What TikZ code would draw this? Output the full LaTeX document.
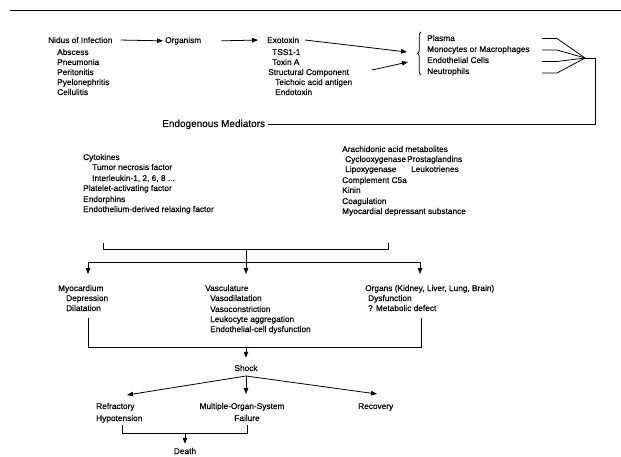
\documentclass[tikz,border=0pt]{standalone}
\usepackage{fontspec}
\setmainfont{Liberation Sans}[FakeBold=0.35]
\usetikzlibrary{arrows.meta,decorations.pathreplacing}
\begin{document}
\begin{tikzpicture}[x=1pt,y=-1pt,
  t/.style={font=\fontsize{8.3}{10}\selectfont, inner sep=0pt, anchor=base west},
  tc/.style={t, anchor=base},
  big/.style={font=\fontsize{10}{12}\selectfont, inner sep=0pt, anchor=base west},
  ln/.style={line width=0.8pt},
  arr/.style={ln, -{Triangle[length=6pt,width=4.5pt]}}]
\useasboundingbox (0,0) rectangle (621,457);
% top rule
\coordinate (r1) at (10,10.5);
\coordinate (r2) at (621,10.5);
\draw[line width=1.6pt] (r1) -- (r2);

% row 1
\node[t] (nidus) at (48,43) {Nidus of Infection};
\node[t] (abs) at (57,55) {Abscess};
\node[t] (pne) at (57,65) {Pneumonia};
\node[t] (per) at (57,75) {Peritonitis};
\node[t] (pye) at (57,85) {Pyelonephritis};
\node[t] (cel) at (57,95) {Cellulitis};

\node[t] (org) at (165,43) {Organism};

\node[t] (exo) at (267,43) {Exotoxin};
\node[t] (tss) at (272,55) {TSS1-1};
\node[t] (toxa) at (272,65) {Toxin A};
\node[t] (struc) at (268,75) {Structural Component};
\node[t] (tei) at (275,85) {Teichoic acid antigen};
\node[t] (endot) at (275,95) {Endotoxin};

\draw[arr] ([xshift=8pt]nidus.east) -- ([xshift=-2pt]org.west);
\draw[arr] ([xshift=20pt]org.east) -- ([xshift=-9pt]exo.west);

% brace group
\node[t] (pla) at (427,41) {Plasma};
\node[t] (mono) at (427,52) {Monocytes or Macrophages};
\node[t] (endc) at (427,63) {Endothelial Cells};
\node[t] (neu) at (427,74) {Neutrophils};
\coordinate (bb) at (421,75);
\coordinate (bt) at (421,32);
\draw[ln, decorate, decoration={brace, amplitude=3.5pt}] (bb) -- (bt);

\coordinate (a1) at (407,52);
\coordinate (s2) at (372,70);
\coordinate (a2) at (408,62);
\draw[arr] ([xshift=6pt]exo.east) -- (a1);
\draw[arr] (s2) -- (a2);

% converging lines
\coordinate (conv) at (585,58);
\coordinate (p1) at (542,38.5);
\coordinate (p2) at (542,50);
\coordinate (p3) at (542,61.5);
\coordinate (p4) at (542,73);
\draw[ln] (p1) -- ++(15,0) -- (conv);
\draw[ln] (p2) -- ++(15,0) -- (conv);
\draw[ln] (p3) -- ++(15,0) -- (conv);
\draw[ln] (p4) -- ++(15,0) -- (conv);

\node[big] (endo) at (162,127) {Endogenous Mediators};
\draw[ln] (conv) -- ++(10,0) |- ([xshift=3pt]endo.east);

% mediators
\node[t] (cyto) at (83,160) {Cytokines};
\node[t] (tnf) at (92,170) {Tumor necrosis factor};
\node[t] (il) at (92,181) {Interleukin-1, 2, 6, 8 ...};
\node[t] (paf) at (83,191) {Platelet-activating factor};
\node[t] (endor) at (83,202) {Endorphins};
\node[t] (edrf) at (83,212) {Endothelium-derived relaxing factor};

\node[t] (ara) at (342,152) {Arachidonic acid metabolites};
\node[t] (cox) at (345,162) {Cyclooxygenase};
\node[t] (pros) at (407,162) {Prostaglandins};
\node[t] (lox) at (345,172) {Lipoxygenase};
\node[t] (leuk) at (411,172) {Leukotrienes};
\node[t] (c5a) at (342,183) {Complement C5a};
\node[t] (kin) at (342,193) {Kinin};
\node[t] (coag) at (342,204) {Coagulation};
\node[t] (mds) at (342,214) {Myocardial depressant substance};

% upper bracket
\coordinate (ul) at (103,243);
\coordinate (ur) at (388,243);
\coordinate (um) at (246,249);
\coordinate (hub) at (246,262);
\coordinate (hl) at (88,262);
\coordinate (hr) at (420,262);
\draw[ln] (ul) -- (ul |- um) -- (ur |- um) -- (ur);
\draw[ln] (um) -- (hub);
\draw[ln] (hl) -- (hr);

% targets
\node[t] (myo) at (58,291) {Myocardium};
\node[t] (dep) at (66,301) {Depression};
\node[t] (dil) at (66,311) {Dilatation};

\node[t] (vas) at (205,291) {Vasculature};
\node[t] (vd) at (210,301) {Vasodilatation};
\node[t] (vc) at (210,312) {Vasoconstriction};
\node[t] (lag) at (210,322) {Leukocyte aggregation};
\node[t] (ecd) at (210,332) {Endothelial-cell dysfunction};

\node[t] (orgs) at (365,291) {Organs (Kidney, Liver, Lung, Brain)};
\node[t] (dys) at (368,301) {Dysfunction};
\node[t] (meta) at (368,311) {? Metabolic defect};

\draw[arr] (hl) -- ++(0,12);
\draw[arr] (hub) -- ++(0,12);
\draw[arr] (hr) -- ++(0,12);

% lower bracket
\coordinate (ll) at (88,318);
\coordinate (lr) at (421,318);
\coordinate (lm) at (246,347);
\draw[ln] (ll) -- (ll |- lm) -- (lr |- lm) -- (lr);

\node[tc] (shock) at (246,371) {Shock};
\draw[arr] (lm) -- ([yshift=7pt]shock.north);

\node[t] (ref) at (96,409) {Refractory};
\node[t] (hyp) at (96,421) {Hypotension};
\node[tc] (mos) at (242,409) {Multiple-Organ-System};
\node[tc] (fail) at (247,421) {Failure};
\node[t] (rec) at (358,409) {Recovery};

\coordinate (sh) at (246,376);
\coordinate (tl) at (127,395);
\coordinate (tm) at (246,394);
\coordinate (tr) at (377,394);
\draw[arr] (sh) -- (tl);
\draw[arr] (sh) -- (tm);
\draw[arr] (sh) -- (tr);

% bottom bracket
\coordinate (dl) at (122,425);
\coordinate (dr) at (247,425);
\coordinate (dm) at (185,433);
\draw[ln] (dl) -- (dl |- dm) -- (dr |- dm) -- (dr);
\node[tc] (death) at (185,454) {Death};
\draw[arr] (dm) -- ([yshift=4pt]death.north);
\end{tikzpicture}
\end{document}
